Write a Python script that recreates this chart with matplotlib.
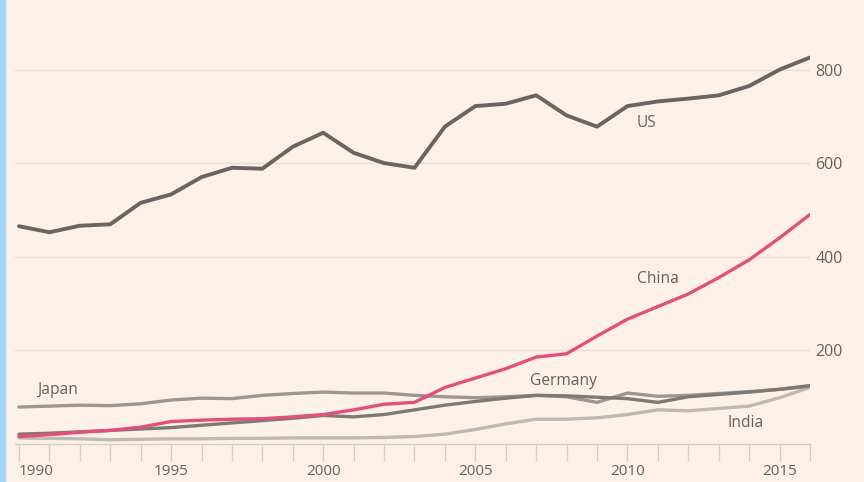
import matplotlib
matplotlib.use("Agg")
import matplotlib.pyplot as plt
from matplotlib.patches import Rectangle

# ── data ──────────────────────────────────────────────
years = list(range(1990, 2017))
us = [465, 452, 466, 469, 515, 533, 570, 590, 588, 635, 665, 622, 600, 590,
      678, 722, 727, 745, 702, 678, 722, 732, 738, 745, 765, 800, 826]
china = [15, 19, 24, 28, 35, 47, 50, 52, 53, 57, 62, 72, 84, 88,
         120, 140, 160, 185, 192, 230, 266, 293, 320, 355, 393, 440, 490]
japan = [78, 80, 82, 81, 85, 93, 97, 96, 103, 107, 110, 108, 108, 103,
         100, 98, 100, 103, 100, 88, 108, 101, 103, 107, 111, 116, 122]
germany = [20, 22, 25, 28, 31, 34, 39, 44, 49, 54, 60, 57, 62, 72,
           82, 90, 97, 103, 102, 99, 96, 88, 100, 105, 110, 116, 124]
india = [12, 11, 10, 8, 9, 10, 10, 11, 11, 12, 12, 12, 13, 15,
         20, 30, 42, 52, 52, 55, 62, 72, 70, 75, 80, 98, 120]

labels = ["US", "China", "Japan", "Germany", "India"]
label_pos = [(2010.3, 685), (2010.3, 352), (1990.6, 114), (2006.8, 134), (2013.3, 44)]

bg = "#fdf1e7"
txt = "#66605c"

plt.rcParams['font.family'] = ['Open Sans', 'DejaVu Sans']

fig = plt.figure(figsize=(8.64, 4.82), dpi=100, facecolor=bg)
ax = fig.add_axes([15 / 864, 1 - 443.5 / 482, (810 - 15) / 864, 443.5 / 482])
ax.set_facecolor(bg)

# left blue strip
fig.patches.append(Rectangle((0, 0), 5 / 864, 1, transform=fig.transFigure,
                             color="#9fd4f4", zorder=0))

ax.plot(years, india, color="#bdb9b5", linewidth=2.4, solid_capstyle="round")
ax.plot(years, japan, color="#9c9794", linewidth=2.4, solid_capstyle="round")
ax.plot(years, germany, color="#7d7976", linewidth=2.4, solid_capstyle="round")
ax.plot(years, china, color="#e2507c", linewidth=2.4, solid_capstyle="round")
ax.plot(years, us, color="#6a6563", linewidth=2.8, solid_capstyle="round")

for name, (x, y) in zip(labels, label_pos):
    ax.text(x, y, name, fontsize=11.2, color=txt, ha="left", va="center")

ax.set_xlim(1989.87, 2016.0)
ax.set_ylim(0, 949)

# axes styling
for s in ["top", "left", "right"]:
    ax.spines[s].set_visible(False)
ax.spines["bottom"].set_color("#d6cdc6")
ax.spines["bottom"].set_linewidth(1)

ax.set_xticks([1990, 1995, 2000, 2005, 2010, 2015])
ax.set_xticks(years, minor=True)
ax.tick_params(axis="x", which="both", direction="out", length=12,
               color="#d6cdc6", width=1, labelsize=11, labelcolor=txt, pad=3)
ax.get_xticklabels()[0].set_horizontalalignment("left")

ax.yaxis.tick_right()
ax.set_yticks([200, 400, 600, 800])
ax.tick_params(axis="y", length=0, pad=4, labelsize=11.5, labelcolor=txt)
ax.grid(axis="y", color="#e9dfd7", linewidth=1)
ax.set_axisbelow(True)

plt.savefig("out.png", dpi=100, facecolor=bg)
